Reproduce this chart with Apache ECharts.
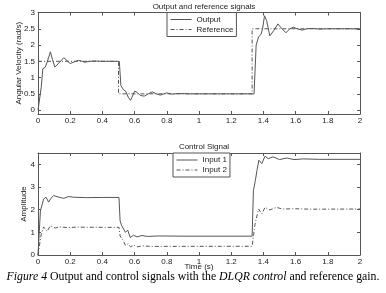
<!DOCTYPE html>
<html>
<head>
<meta charset="utf-8">
<script src="https://cdn.jsdelivr.net/npm/echarts@6/dist/echarts.min.js"></script>
<style>
  html, body { margin: 0; padding: 0; background: #fff; }
  #chart { width: 386px; height: 293px; }
</style>
</head>
<body>
<div id="chart"></div>
<script>
// time ticks shared by both plots
const timeTicks = [0, 0.2, 0.4, 0.6, 0.8, 1, 1.2, 1.4, 1.6, 1.8, 2];
const velocityTicks = [0, 0.5, 1, 1.5, 2, 2.5, 3];
const amplitudeTicks = [0, 1, 2, 3, 4];

// [time, value] pairs
const outputSig = [
  [0, 0], [0.01, 0.05], [0.02, 0.7], [0.03, 1.27], [0.045, 1.32], [0.055, 1.45], [0.065, 1.6],
  [0.077, 1.79], [0.09, 1.55], [0.105, 1.32], [0.13, 1.45], [0.16, 1.61], [0.18, 1.52], [0.2, 1.43],
  [0.225, 1.48], [0.25, 1.53], [0.27, 1.51], [0.29, 1.47], [0.32, 1.5], [0.35, 1.51], [0.4, 1.5],
  [0.505, 1.5], [0.515, 0.75], [0.53, 0.63], [0.545, 0.58], [0.56, 0.4], [0.575, 0.3], [0.6, 0.58],
  [0.615, 0.55], [0.635, 0.45], [0.66, 0.43], [0.685, 0.5], [0.71, 0.56], [0.735, 0.5], [0.76, 0.46],
  [0.8, 0.53], [0.83, 0.49], [0.87, 0.51], [0.95, 0.5], [1.342, 0.5], [1.355, 2.0], [1.37, 2.25],
  [1.385, 2.33], [1.395, 2.5], [1.407, 2.9], [1.42, 2.75], [1.44, 2.28], [1.465, 2.45], [1.49, 2.65],
  [1.515, 2.5], [1.54, 2.38], [1.565, 2.5], [1.585, 2.55], [1.61, 2.5], [1.64, 2.46], [1.67, 2.5],
  [1.7, 2.51], [1.75, 2.49], [1.8, 2.5], [2, 2.5]
];
const referenceSig = [
  [0, 1.5], [0.5, 1.5], [0.5, 0.5], [1.33, 0.5], [1.33, 2.5], [2, 2.5]
];
const input1Sig = [
  [0, 0], [0.015, 1.95], [0.035, 2.47], [0.05, 2.55], [0.066, 2.33], [0.08, 2.5], [0.097, 2.62],
  [0.13, 2.55], [0.16, 2.5], [0.19, 2.58], [0.22, 2.55], [0.3, 2.53], [0.4, 2.54], [0.503, 2.54],
  [0.51, 1.5], [0.52, 1.29], [0.53, 1.21], [0.543, 1.0], [0.557, 1.1], [0.573, 0.77], [0.593, 0.87],
  [0.615, 0.8], [0.645, 0.86], [0.68, 0.82], [0.75, 0.84], [0.9, 0.83], [1.33, 0.83], [1.338, 2.84],
  [1.35, 3.29], [1.36, 3.73], [1.372, 4.18], [1.39, 4.03], [1.41, 4.36], [1.43, 4.25], [1.46, 4.33],
  [1.5, 4.21], [1.545, 4.28], [1.59, 4.21], [1.65, 4.24], [1.75, 4.22], [2, 4.22]
];
const input2Sig = [
  [0, 0], [0.02, 0.92], [0.035, 1.24], [0.056, 1.04], [0.077, 1.29], [0.107, 1.19], [0.14, 1.24],
  [0.18, 1.21], [0.25, 1.23], [0.4, 1.22], [0.503, 1.22], [0.51, 0.84], [0.53, 0.62], [0.543, 0.43],
  [0.56, 0.5], [0.575, 0.36], [0.595, 0.44], [0.615, 0.36], [0.65, 0.4], [0.7, 0.38], [1.33, 0.385],
  [1.348, 1.36], [1.37, 2.03], [1.39, 1.81], [1.41, 2.1], [1.44, 1.99], [1.48, 2.1], [1.52, 2.03],
  [1.6, 2.04], [1.7, 2.02], [2, 2.03]
];

const FONT = 'Liberation Sans';
const INK = '#222';
const LINE = '#555';

function xAxisFor(gridIndex, withLabels, name) {
  return {
    type: 'value', gridIndex: gridIndex, min: 0, max: 2,
    position: withLabels ? 'bottom' : 'top',
    name: name || '', nameLocation: 'middle', nameGap: 8, nameMoveOverlap: false,
    nameTextStyle: { color: INK, fontFamily: FONT, fontSize: 8 },
    axisLine: { show: true, onZero: false, lineStyle: { color: '#555', width: 1 } },
    axisTick: { show: true, inside: true, length: 3, customValues: timeTicks, lineStyle: { color: '#555' } },
    axisLabel: { show: withLabels, customValues: timeTicks, color: INK, fontFamily: FONT, fontSize: 8, margin: 3 },
    splitLine: { show: false }
  };
}
function yAxisFor(gridIndex, min, max, ticks, withLabels, name, gap) {
  return {
    type: 'value', gridIndex: gridIndex, min: min, max: max,
    position: withLabels ? 'left' : 'right',
    name: name || '', nameLocation: 'middle', nameGap: gap || 0, nameMoveOverlap: false,
    nameTextStyle: { color: INK, fontFamily: FONT, fontSize: 8 },
    axisLine: { show: true, onZero: false, lineStyle: { color: '#555', width: 1 } },
    axisTick: { show: true, inside: true, length: 3, customValues: ticks, lineStyle: { color: '#555' } },
    axisLabel: { show: withLabels, customValues: ticks, color: INK, fontFamily: FONT, fontSize: 8, margin: 3 },
    splitLine: { show: false }
  };
}
function lineSeries(name, data, xi, yi, dashed) {
  return {
    name: name, type: 'line', data: data, xAxisIndex: xi, yAxisIndex: yi,
    showSymbol: false, symbol: 'none', animation: false,
    lineStyle: { color: LINE, width: 1, type: dashed ? [4, 2, 1, 2] : 'solid' },
    itemStyle: { color: LINE }
  };
}
function legendFor(names, left, top) {
  return {
    data: names, orient: 'vertical', left: left, top: top,
    itemWidth: 21, itemHeight: 6, itemGap: 2,
    itemStyle: { opacity: 0 },
    lineStyle: { width: 1 },
    padding: [3, 3, 3, 3], borderColor: '#555', borderWidth: 1, backgroundColor: '#fff',
    textStyle: { color: INK, fontFamily: FONT, fontSize: 8 },
    selectedMode: false
  };
}

const chart = echarts.init(document.getElementById('chart'), null, { renderer: 'canvas' });
chart.setOption({
  backgroundColor: '#fff',
  animation: false,
  title: [
    { text: 'Output and reference signals', left: 199, top: -2, textAlign: 'center',
      textStyle: { color: INK, fontFamily: FONT, fontSize: 8, fontWeight: 'normal' } },
    { text: 'Control Signal', left: 199, top: 138, textAlign: 'center',
      textStyle: { color: INK, fontFamily: FONT, fontSize: 8, fontWeight: 'normal' } }
  ],
  grid: [
    { left: 38, top: 12.5, width: 322, height: 101.5 },
    { left: 38, top: 153, width: 322, height: 102 }
  ],
  xAxis: [
    xAxisFor(0, true), xAxisFor(0, false),
    xAxisFor(1, true, 'Time (s)'), xAxisFor(1, false)
  ],
  yAxis: [
    yAxisFor(0, -0.12, 3, velocityTicks, true, 'Angular Velocity (rad/s)', 15),
    yAxisFor(0, -0.12, 3, velocityTicks, false),
    yAxisFor(1, 0, 4.5, amplitudeTicks, true, 'Amplitude', 10),
    yAxisFor(1, 0, 4.5, amplitudeTicks, false)
  ],
  legend: [
    legendFor(['Output', 'Reference'], 167, 12.5),
    legendFor(['Input 1', 'Input 2'], 173, 153)
  ],
  series: [
    lineSeries('Reference', referenceSig, 0, 0, true),
    lineSeries('Output', outputSig, 0, 0, false),
    lineSeries('Input 1', input1Sig, 2, 2, false),
    lineSeries('Input 2', input2Sig, 2, 2, true)
  ],
  graphic: [{
    type: 'text', left: 'center', top: 271,
    style: {
      text: '{i|Figure 4} Output and control signals with the {i|DLQR control} and reference gain.',
      font: '11.8px "Liberation Serif"', fill: '#000',
      rich: { i: { fontStyle: 'italic', fontFamily: 'Liberation Serif', fontSize: 11.8, fill: '#000' } }
    }
  }]
});
</script>
</body>
</html>
